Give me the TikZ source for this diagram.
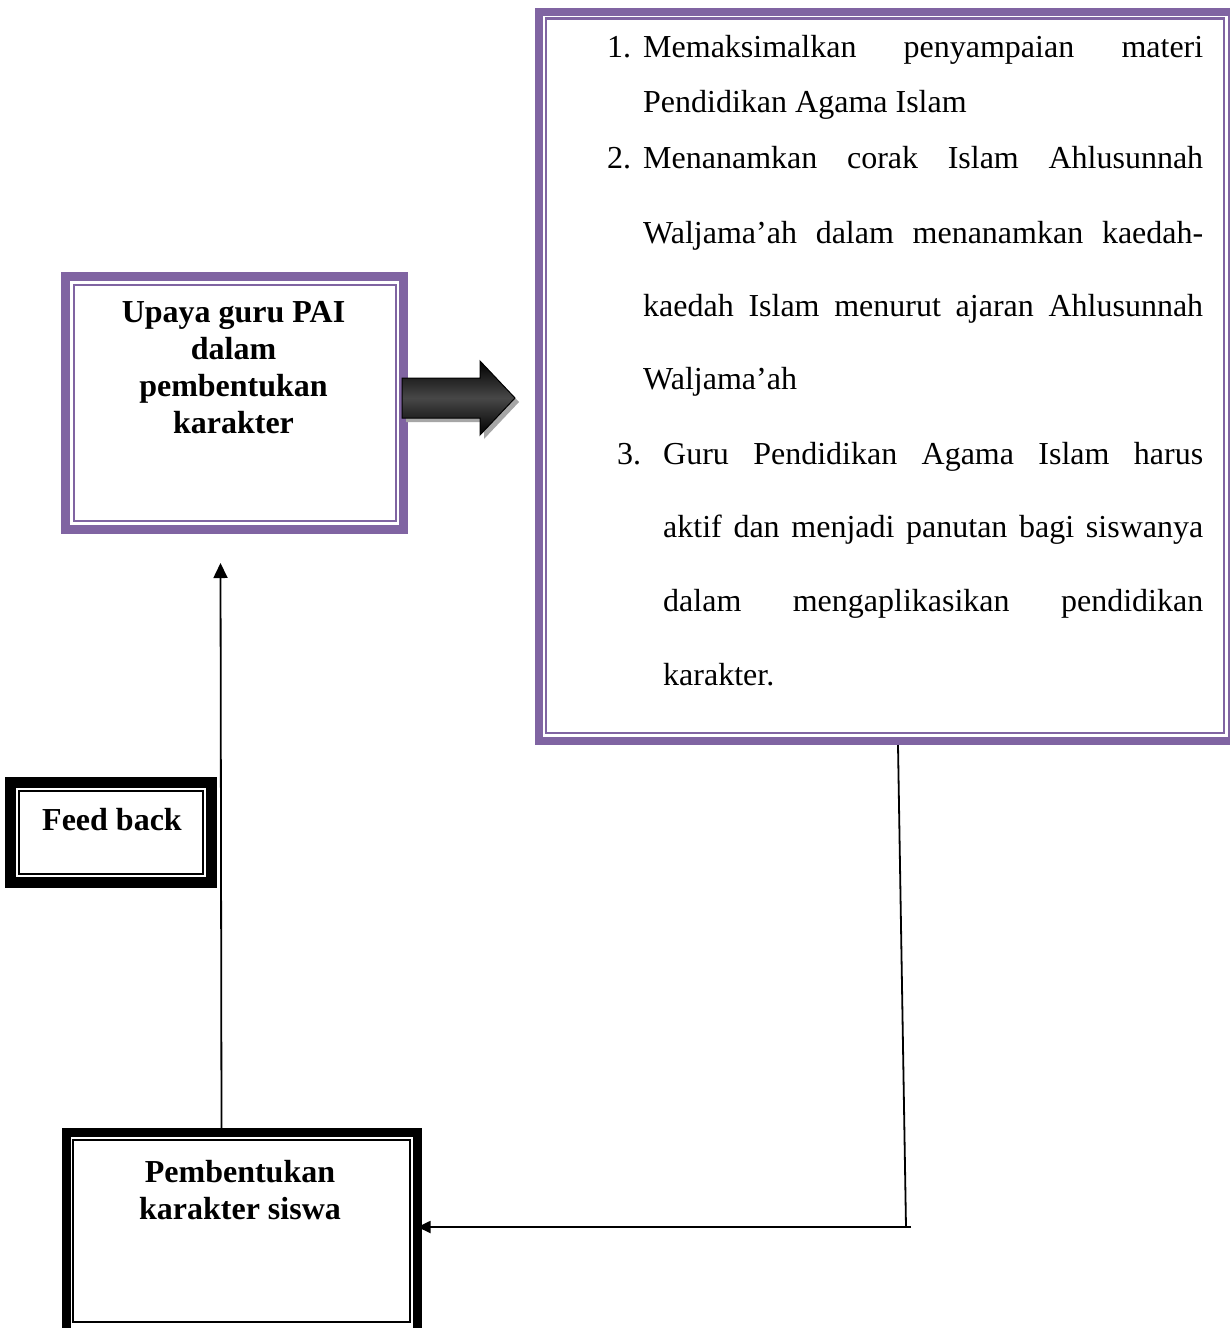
\documentclass[tikz,border=0pt]{standalone}
\usepackage{fontspec}
\setmainfont{Liberation Serif}
\usetikzlibrary{arrows.meta,calc}
\definecolor{boxpurple}{HTML}{8064A2}
\begin{document}
\begin{tikzpicture}[x=1pt,y=-1pt,
  purplebox/.style={draw=boxpurple,line width=8.5pt,fill=white,inner sep=0pt,outer sep=0pt},
  blackbox/.style={draw=black,line width=10pt,fill=white,inner sep=0pt,outer sep=0pt},
  innerp/.style={draw=boxpurple,line width=2.4pt},
  innerb/.style={draw=black,line width=2pt},
  boldlbl/.style={font=\bfseries\fontsize{32}{37}\selectfont,align=center,inner sep=0pt},
  txt/.style={font=\fontsize{32}{37}\selectfont,inner sep=0pt,anchor=base west},
  conn/.style={draw=black,line width=1.8pt},
  tipA/.style={-{Triangle[length=15pt,width=14pt]}},
  tipB/.style={-{Triangle[length=13pt,width=12pt]}}
]
\useasboundingbox (0,0) rectangle (1230,1328);
\fill[white] (0,0) rectangle (1230,1328);
\clip (0,0) rectangle (1230,1328);

% ---- Upaya box ----
\node[purplebox,minimum width=338pt,minimum height=253pt] (upaya) at (234.5,403) {};
\draw[innerp] (74,285) rectangle (396,521);
\node[boldlbl,anchor=base] (upayatxt) at (233.5,433) {Upaya guru PAI\\dalam\\pembentukan\\karakter};

% ---- right box ----
\node[purplebox,minimum width=693pt,minimum height=729pt] (rbox) at (885.5,376.5) {};
\draw[innerp] (546,18.5) rectangle (1224,733);

\node[txt] (n1) at (607,57) {1.};
\node[txt] (l1) at (643,57) {\makebox[560pt][s]{Memaksimalkan penyampaian materi}};
\node[txt] (l2) at (643,112) {Pendidikan Agama Islam};
\node[txt] (n2) at (607,168) {2.};
\node[txt] (l3) at (643,168) {\makebox[560pt][s]{Menanamkan corak Islam Ahlusunnah}};
\node[txt] (l4) at (643,243) {\makebox[560pt][s]{Waljama’ah dalam menanamkan kaedah-}};
\node[txt] (l5) at (643,316) {\makebox[560pt][s]{kaedah Islam menurut ajaran Ahlusunnah}};
\node[txt] (l6) at (643,389) {Waljama’ah};
\node[txt] (n3) at (617,464) {3.};
\node[txt] (l7) at (663,464) {\makebox[540pt][s]{Guru Pendidikan Agama Islam harus}};
\node[txt] (l8) at (663,537) {\makebox[540pt][s]{aktif dan menjadi panutan bagi siswanya}};
\node[txt] (l9) at (663,611) {\makebox[540pt][s]{dalam mengaplikasikan pendidikan}};
\node[txt] (l10) at (663,685) {karakter.};

% ---- block arrow between upaya and right box ----
\coordinate (ab) at (402,398);
\fill[gray!70] ($(ab)+(4,4)$) -- ++(0,-20) -- ++(78,0) -- ++(0,-17) -- ++(35,37) -- ++(-35,37) -- ++(0,-17) -- ++(-78,0) -- cycle;
\path[draw=black,line width=1pt,top color=black,bottom color=black,middle color=black!72]
  (ab) -- ++(0,-20) -- ++(78,0) -- ++(0,-17) -- ++(35,37) -- ++(-35,37) -- ++(0,-17) -- ++(-78,0) -- cycle;

% ---- Feed back box ----
\node[blackbox,line width=11pt,minimum width=201pt,minimum height=100pt] (fb) at (111,832.5) {};
\draw[innerb] (19,791) rectangle (203,874);
\node[boldlbl,anchor=base] (fbtxt) at (112,830) {Feed back};

% ---- Pembentukan box ----
\node[blackbox,line width=9.5pt,minimum width=351pt,minimum height=204.5pt] (pem) at (242,1234.75) {};
\draw[innerb] (73,1140) rectangle (410,1322);
\node[boldlbl,anchor=base] (pemtxt) at (240,1219) {Pembentukan\\karakter siswa};

% ---- connectors ----
\coordinate (fbtop) at (220.5,563);
\coordinate (fbbot) at (221.5,1128);
\draw[conn,tipA] (fbbot) -- (fbtop);

\coordinate (dtop) at (898,745);
\coordinate (dturn) at (906,1227);
\coordinate (dend) at (911,1227);
\draw[conn] (dtop) -- (dturn);
\draw[conn,tipB] (dend) -- (pem.east |- dend);
\end{tikzpicture}
\end{document}
